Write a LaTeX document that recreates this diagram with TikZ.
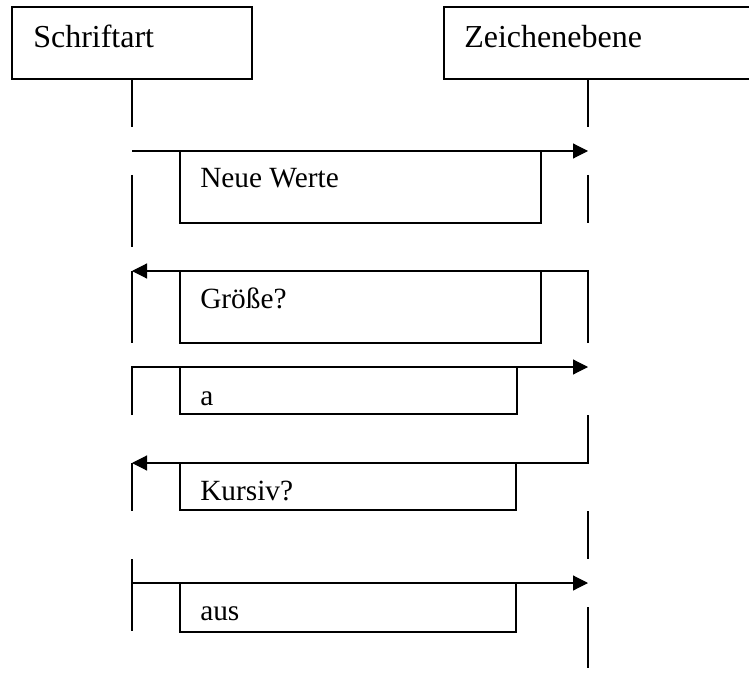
\documentclass[tikz,border=0pt]{standalone}
\usepackage{fontspec}
\setmainfont{Liberation Serif}
\usetikzlibrary{arrows.meta,fit}

\tikzset{
  wire/.style={line width=0.85pt},
  msg/.style={wire,-{Triangle[length=11.25pt,width=11.25pt]}},
  frame/.style={draw,line width=0.85pt,inner sep=0pt},
  caption/.style={inner sep=0pt,anchor=base west,font=\fontsize{24}{29}\selectfont},
  msgtext/.style={caption,font=\fontsize{22}{27}\selectfont}
}

\begin{document}
\begin{tikzpicture}[x=0.75pt,y=-0.75pt]
  \clip (0,0) rectangle (749,677);

  % objects
  \node[frame,fit={(12,7) (252,79)}] (sch) {};
  \node[frame,fit={(444,7) (770,79)}] (zei) {};
  \node[caption] (schT) at (33,48) {Schriftart};
  \node[caption] (zeiT) at (464,48) {Zeichenebene};

  % lifeline points, Schriftart (x = 132)
  \coordinate (La) at (132,79);   \coordinate (Lb) at (132,127);
  \coordinate (L1) at (132,151);
  \coordinate (Lc) at (132,175);  \coordinate (Ld) at (132,247);
  \coordinate (L2) at (132,271);  \coordinate (L2e) at (132,343);
  \coordinate (L3) at (132,367);  \coordinate (L3s) at (132,415);
  \coordinate (L4) at (132,463);  \coordinate (L4e) at (132,511);
  \coordinate (L5) at (132,583);
  \coordinate (Le) at (132,559);  \coordinate (Lf) at (132,631);

  % lifeline points, Zeichenebene (x = 588)
  \coordinate (Ra) at (588,79);   \coordinate (Rb) at (588,127);
  \coordinate (R1) at (588,151);
  \coordinate (Rc) at (588,175);  \coordinate (Rd) at (588,223);
  \coordinate (R2) at (588,271);  \coordinate (R2s) at (588,343);
  \coordinate (R3) at (588,367);
  \coordinate (R4s) at (588,415); \coordinate (R4) at (588,463);
  \coordinate (Re) at (588,511);  \coordinate (Rf) at (588,559);
  \coordinate (R5) at (588,583);
  \coordinate (Rg) at (588,607);  \coordinate (Rh) at (588,668);

  % lifeline pieces
  \draw[wire] (La) -- (Lb);
  \draw[wire] (Lc) -- (Ld);
  \draw[wire] (Le) -- (Lf);
  \draw[wire] (Ra) -- (Rb);
  \draw[wire] (Rc) -- (Rd);
  \draw[wire] (Re) -- (Rf);
  \draw[wire] (Rg) -- (Rh);

  % messages
  \draw[msg] (L1) -- (R1);
  \draw[msg] (R2s) -- (R2) -- (L2);
  \draw[wire] (L2) -- (L2e);
  \draw[msg] (L3s) -- (L3) -- (R3);
  \draw[msg] (R4s) -- (R4) -- (L4);
  \draw[wire] (L4) -- (L4e);
  \draw[msg] (L5) -- (R5);

  % message labels
  \node[frame,fit={(180,151) (541,223)}] (m1) {};
  \node[msgtext] (m1T) at (200,188) {Neue Werte};
  \node[frame,fit={(180,271) (541,343)}] (m2) {};
  \node[msgtext] (m2T) at (200,308) {Größe?};
  \node[frame,fit={(180,367) (517,414)}] (m3) {};
  \node[msgtext] (m3T) at (200,405) {a};
  \node[frame,fit={(180,463) (516,510)}] (m4) {};
  \node[msgtext] (m4T) at (200,500) {Kursiv?};
  \node[frame,fit={(180,583) (516,632)}] (m5) {};
  \node[msgtext] (m5T) at (200,620) {aus};
\end{tikzpicture}
\end{document}
